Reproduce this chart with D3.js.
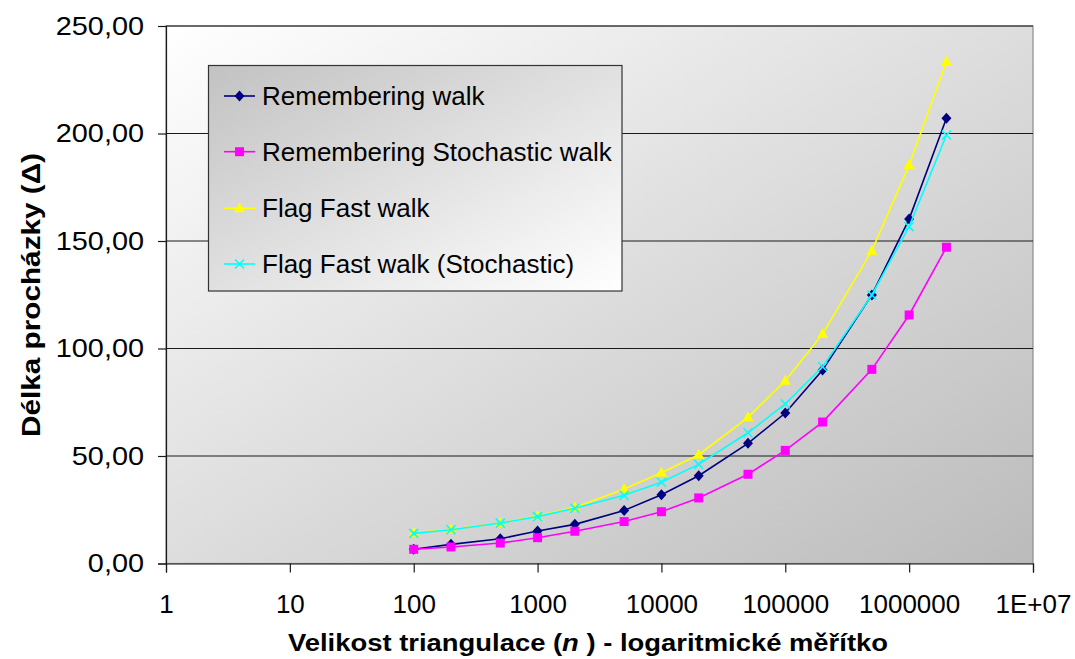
<!DOCTYPE html>
<html>
<head>
<meta charset="utf-8">
<script src="https://cdn.jsdelivr.net/npm/d3@7"></script>
<style>
  body { margin: 0; background: #fff; }
  text { font-family: Arial, "Liberation Sans", sans-serif; fill: #000; }
</style>
</head>
<body>
<div id="chart"></div>
<script>
const W = 1075
const H = 659

// triangulation sizes (x)
const sizes = [100, 200, 500, 1000, 2000, 5000, 10000, 20000, 50000, 100000, 200000, 500000, 1000000, 2000000]

// walk lengths per series
const rememberingWalk = [6.6, 8.9, 11.5, 15.1, 18.2, 24.7, 32.0, 40.8, 55.9, 70.0, 90.0, 124.9, 160.2, 207.1]
const rememberingStochastic = [6.6, 7.7, 9.5, 12.0, 15.0, 19.5, 24.1, 30.5, 41.5, 52.6, 65.8, 90.3, 115.6, 147.1]
const flagFast = [14.3, 15.9, 18.8, 22.1, 26.1, 34.7, 42.2, 50.6, 68.0, 85.0, 106.7, 145.5, 185.3, 233.4]
const flagFastStochastic = [14.0, 15.7, 18.8, 21.8, 25.7, 31.7, 37.8, 46.1, 60.8, 74.2, 91.5, 124.9, 156.7, 199.3]

const seriesNames = ["Remembering walk", "Remembering Stochastic walk", "Flag Fast walk", "Flag Fast walk (Stochastic)"]
const seriesColors = ["#000080", "#ff00ff", "#ffff00", "#00ffff"]
const seriesMarkers = ["diamond", "square", "triangle", "cross"]

const xTicks = [1, 10, 100, 1000, 10000, 100000, 1000000, 10000000]
const xTickLabels = ["1", "10", "100", "1000", "10000", "100000", "1000000", "1E+07"]
const yTicks = [0, 50, 100, 150, 200, 250]

const plotLeft = 166, plotRight = 1033, plotTop = 26, plotBottom = 563.5

const svg = d3.select("#chart").append("svg")
  .attr("width", W)
  .attr("height", H)

const defs = svg.append("defs")
const bg = defs.append("linearGradient").attr("id", "plotBg")
  .attr("x1", "0").attr("y1", "0").attr("x2", "1").attr("y2", "1")
bg.append("stop").attr("offset", "0").attr("stop-color", "#ffffff")
bg.append("stop").attr("offset", "1").attr("stop-color", "#bbbbbb")
const lg = defs.append("linearGradient").attr("id", "legBg")
  .attr("x1", "0").attr("y1", "0").attr("x2", "1").attr("y2", "1")
lg.append("stop").attr("offset", "0").attr("stop-color", "#c2c2c2")
lg.append("stop").attr("offset", "1").attr("stop-color", "#ffffff")

const x = d3.scaleLog().domain([1, 1e7]).range([plotLeft, plotRight])
const y = d3.scaleLinear().domain([0, 250]).range([plotBottom, plotTop])

const fmt = d3.formatLocale({ decimal: ",", thousands: " ", grouping: [3], currency: ["", ""] }).format(".2f")

// plot area
svg.append("rect")
  .attr("x", plotLeft).attr("y", plotTop)
  .attr("width", plotRight - plotLeft).attr("height", plotBottom - plotTop)
  .attr("fill", "url(#plotBg)")
  .attr("stroke", "#8c8c8c").attr("stroke-width", 1.2)

// gridlines
svg.append("g")
  .selectAll("line")
  .data(yTicks.filter(d => d > 0))
  .join("line")
    .attr("x1", plotLeft).attr("x2", plotRight)
    .attr("y1", d => y(d)).attr("y2", d => y(d))
    .attr("stroke", "#1a1a1a").attr("stroke-width", 1.2)

// y axis
const yAxis = svg.append("g")
  .attr("transform", `translate(${plotLeft},0)`)
  .call(d3.axisLeft(y).tickValues(yTicks).tickFormat(fmt).tickSize(8).tickPadding(14))
yAxis.select(".domain").attr("stroke", "#1a1a1a").attr("stroke-width", 1.2)
yAxis.selectAll(".tick line").attr("stroke", "#1a1a1a").attr("stroke-width", 1.2)
yAxis.selectAll("text")
  .attr("font-size", 26)
  .attr("font-family", "Arial, 'Liberation Sans', sans-serif")
  .each(function () {
    // the original labels are drawn a bit wider than Arial
    const w = this.getComputedTextLength()
    d3.select(this).attr("textLength", w * 1.11).attr("lengthAdjust", "spacingAndGlyphs")
  })

// x axis
const xAxis = svg.append("g")
  .attr("transform", `translate(0,${plotBottom})`)
  .call(d3.axisBottom(x).tickValues(xTicks).tickFormat((d, i) => xTickLabels[i]).tickSize(9).tickPadding(22))
xAxis.select(".domain").attr("stroke", "#1a1a1a").attr("stroke-width", 1.2)
xAxis.selectAll(".tick line").attr("stroke", "#1a1a1a").attr("stroke-width", 1.2)
xAxis.selectAll("text").attr("font-size", 26).attr("font-family", "Arial, 'Liberation Sans', sans-serif")

// axis titles
svg.append("text")
  .attr("x", 588).attr("y", 651)
  .attr("text-anchor", "middle")
  .attr("font-size", 23).attr("font-weight", "bold")
  .attr("textLength", 600).attr("lengthAdjust", "spacingAndGlyphs")
  .html('Velikost triangulace (<tspan font-style="italic">n</tspan> ) - logaritmické měřítko')

svg.append("text")
  .attr("transform", "translate(40,295) rotate(-90)")
  .attr("text-anchor", "middle")
  .attr("font-size", 25).attr("font-weight", "bold")
  .attr("textLength", 284).attr("lengthAdjust", "spacingAndGlyphs")
  .text("Délka procházky (Δ)")

// markers
const drawMarker = (g, type, color, cx, cy) => {
  if (type === "diamond") {
    g.append("path").attr("d", `M${cx},${cy - 5.5}L${cx + 5},${cy}L${cx},${cy + 5.5}L${cx - 5},${cy}Z`).attr("fill", color)
  } else if (type === "square") {
    g.append("rect").attr("x", cx - 4.5).attr("y", cy - 4.5).attr("width", 9).attr("height", 9).attr("fill", color)
  } else if (type === "triangle") {
    g.append("path").attr("d", `M${cx},${cy - 6}L${cx + 5.5},${cy + 4}L${cx - 5.5},${cy + 4}Z`).attr("fill", color)
  } else {
    g.append("path").attr("d", `M${cx - 4.5},${cy - 4.5}L${cx + 4.5},${cy + 4.5}M${cx - 4.5},${cy + 4.5}L${cx + 4.5},${cy - 4.5}`)
      .attr("stroke", color).attr("stroke-width", 1.6).attr("fill", "none")
  }
}

const allSeries = [rememberingWalk, rememberingStochastic, flagFast, flagFastStochastic]
const line = d3.line().x(d => x(d[0])).y(d => y(d[1]))

allSeries.forEach((vals, s) => {
  const pts = sizes.map((n, i) => [n, vals[i]])
  const g = svg.append("g")
  g.append("path")
    .datum(pts)
    .attr("d", line)
    .attr("fill", "none")
    .attr("stroke", seriesColors[s])
    .attr("stroke-width", 1.6)
  pts.forEach(p => drawMarker(g, seriesMarkers[s], seriesColors[s], x(p[0]), y(p[1])))
})

// legend
const legend = svg.append("g")
legend.append("rect")
  .attr("x", 208.5).attr("y", 65.5)
  .attr("width", 413.5).attr("height", 225.5)
  .attr("fill", "url(#legBg)")
  .attr("stroke", "#333").attr("stroke-width", 1.2)

const legendRows = [96, 151.7, 208.3, 264]
seriesNames.forEach((name, s) => {
  const ly = legendRows[s]
  legend.append("line")
    .attr("x1", 224).attr("x2", 255)
    .attr("y1", ly).attr("y2", ly)
    .attr("stroke", seriesColors[s]).attr("stroke-width", 1.6)
  drawMarker(legend, seriesMarkers[s], seriesColors[s], 239.5, ly)
  legend.append("text")
    .attr("x", 262).attr("y", ly)
    .attr("dy", "0.35em")
    .attr("font-size", 26)
    .text(name)
})
</script>
</body>
</html>
